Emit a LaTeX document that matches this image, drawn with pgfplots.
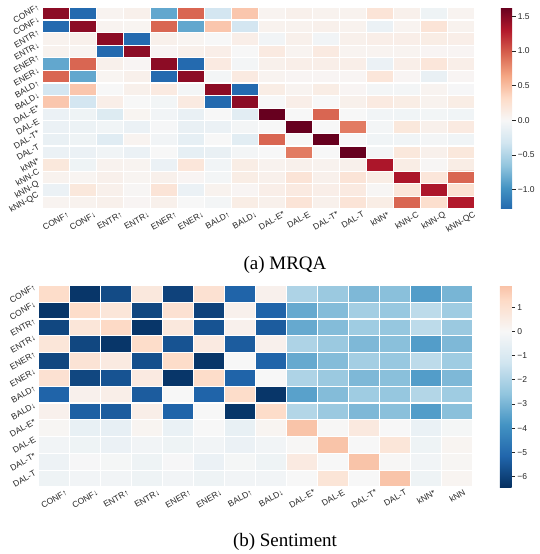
\documentclass[border=0pt]{standalone}
\usepackage{fontspec}
\setmainfont{Liberation Serif}
\newfontfamily\sans{Liberation Sans}
\usepackage{graphicx}
\usepackage{pgfplots}
\pgfplotsset{compat=1.18}
\definecolor{tg}{HTML}{262626}
\pgfplotsset{
 colormap={topmap}{rgb255(0pt)=(35,105,174); rgb255(30.2pt)=(67,147,195); rgb255(62.8pt)=(146,197,222); rgb255(95.4pt)=(209,229,240); rgb255(128pt)=(247,247,247); rgb255(160.6pt)=(253,219,199); rgb255(193.2pt)=(244,165,130); rgb255(225.8pt)=(214,96,77); rgb255(258.4pt)=(178,24,43); rgb255(291pt)=(103,0,31)},
 colormap={botmap}{rgb255(0pt)=(5,48,97); rgb255(12.88pt)=(33,102,172); rgb255(25.76pt)=(67,147,195); rgb255(38.64pt)=(146,197,222); rgb255(51.52pt)=(209,229,240); rgb255(64.4pt)=(247,247,247); rgb255(77.28pt)=(253,219,199); rgb255(83.5pt)=(249,193,166)},
 hm/.style={scale only axis, enlargelimits=false, y dir=reverse, axis on top,
   axis line style={draw=none}, major tick length=0pt, minor tick length=0pt,
   grid=minor, minor grid style={white, line width=1.1pt},
   tick label style={font=\sans\fontsize{8.5}{10}\selectfont, text=tg},
   xticklabel style={anchor=north, inner sep=2pt},
   yticklabel style={anchor=east, inner sep=2pt},
   point meta=explicit},
 cb/.style={at={(parent axis.north east)}, anchor=north west,
   scale only axis, axis line style={draw=none}, xtick=\empty,
   ytick pos=right, yticklabel pos=right, tick align=outside,
   major tick length=3.5pt, tick style={tg, line width=0.8pt},
   yticklabel style={font=\sans\fontsize{8.5}{10}\selectfont, text=tg, inner sep=2pt}}
}
\begin{document}
\begin{tikzpicture}
\path[use as bounding box] (0,0) rectangle (539pt,554pt);
\begin{axis}[hm, at={(42.3pt,345pt)}, anchor=south west, width=432pt, height=201.6pt,
  xmin=-0.5, xmax=15.5, ymin=-0.5, ymax=15.5,
  colormap name=topmap, point meta min=-1.28, point meta max=1.63,
  xtick={0,...,15}, ytick={0,...,15},
  minor xtick={-0.5,0.5,...,15.5}, minor ytick={-0.5,0.5,...,15.5},
  xticklabels={\rotatebox{30}{CONF↑},\rotatebox{30}{CONF↓},\rotatebox{30}{ENTR↑},\rotatebox{30}{ENTR↓},\rotatebox{30}{ENER↑},\rotatebox{30}{ENER↓},\rotatebox{30}{BALD↑},\rotatebox{30}{BALD↓},\rotatebox{30}{DAL-E*},\rotatebox{30}{DAL-E},\rotatebox{30}{DAL-T*},\rotatebox{30}{DAL-T},\rotatebox{30}{kNN*},\rotatebox{30}{kNN-C},\rotatebox{30}{kNN-Q},\rotatebox{30}{kNN-QC}},
  yticklabels={\rotatebox{30}{CONF↑},\rotatebox{30}{CONF↓},\rotatebox{30}{ENTR↑},\rotatebox{30}{ENTR↓},\rotatebox{30}{ENER↑},\rotatebox{30}{ENER↓},\rotatebox{30}{BALD↑},\rotatebox{30}{BALD↓},\rotatebox{30}{DAL-E*},\rotatebox{30}{DAL-E},\rotatebox{30}{DAL-T*},\rotatebox{30}{DAL-T},\rotatebox{30}{kNN*},\rotatebox{30}{kNN-C},\rotatebox{30}{kNN-Q},\rotatebox{30}{kNN-QC}},
  colorbar, colorbar style={cb, xshift=18pt, width=11.3pt, height=201.6pt,
    ytick={-1,-0.5,0,0.5,1,1.5}, yticklabels={−1.0,−0.5,0.0,0.5,1.0,1.5}}]
\addplot[matrix plot*, mesh/cols=16] coordinates {
(0,0)[1.47] (1,0)[-1.27] (2,0)[0.05] (3,0)[0.08] (4,0)[-0.85] (5,0)[0.95] (6,0)[-0.30] (7,0)[0.45] (8,0)[0.05] (9,0)[0.08] (10,0)[0.06] (11,0)[0.06] (12,0)[0.22] (13,0)[0.08] (14,0)[-0.08] (15,0)[0.05]

(0,1)[-1.27] (1,1)[1.47] (2,1)[0.05] (3,1)[0.04] (4,1)[0.95] (5,1)[-0.85] (6,1)[0.45] (7,1)[-0.30] (8,1)[0.06] (9,1)[0.06] (10,1)[0.08] (11,1)[0.06] (12,1)[-0.10] (13,1)[0.05] (14,1)[0.22] (15,1)[0.06]

(0,2)[0.06] (1,2)[0.08] (2,2)[1.47] (3,2)[-1.27] (4,2)[0.08] (5,2)[0.04] (6,2)[0.00] (7,2)[0.10] (8,2)[-0.05] (9,2)[0.08] (10,2)[-0.05] (11,2)[0.08] (12,2)[0.10] (13,2)[0.10] (14,2)[0.12] (15,2)[0.10]

(0,3)[0.06] (1,3)[0.04] (2,3)[-1.27] (3,3)[1.47] (4,3)[0.03] (5,3)[0.08] (6,3)[0.10] (7,3)[0.00] (8,3)[0.15] (9,3)[0.05] (10,3)[0.15] (11,3)[0.05] (12,3)[0.05] (13,3)[0.05] (14,3)[0.03] (15,3)[0.03]

(0,4)[-0.85] (1,4)[0.95] (2,4)[0.08] (3,4)[0.03] (4,4)[1.47] (5,4)[-1.27] (6,4)[0.15] (7,4)[-0.03] (8,4)[0.08] (9,4)[0.10] (10,4)[0.10] (11,4)[0.10] (12,4)[-0.10] (13,4)[0.10] (14,4)[0.20] (15,4)[0.10]

(0,5)[0.95] (1,5)[-0.85] (2,5)[0.04] (3,5)[0.08] (4,5)[-1.27] (5,5)[1.47] (6,5)[-0.03] (7,5)[0.15] (8,5)[0.05] (9,5)[0.03] (10,5)[0.03] (11,5)[0.03] (12,5)[0.20] (13,5)[0.03] (14,5)[-0.12] (15,5)[0.03]

(0,6)[-0.30] (1,6)[0.45] (2,6)[0.00] (3,6)[0.08] (4,6)[0.15] (5,6)[-0.03] (6,6)[1.47] (7,6)[-1.27] (8,6)[0.12] (9,6)[0.05] (10,6)[0.12] (11,6)[0.03] (12,6)[-0.03] (13,6)[-0.03] (14,6)[0.05] (15,6)[-0.01]

(0,7)[0.45] (1,7)[-0.30] (2,7)[0.10] (3,7)[0.00] (4,7)[-0.04] (5,7)[0.15] (6,7)[-1.27] (7,7)[1.47] (8,7)[0.00] (9,7)[0.10] (10,7)[0.00] (11,7)[0.08] (12,7)[0.15] (13,7)[0.12] (14,7)[0.06] (15,7)[0.12]

(0,8)[-0.10] (1,8)[-0.08] (2,8)[-0.22] (3,8)[0.04] (4,8)[-0.05] (5,8)[-0.12] (6,8)[0.00] (7,8)[-0.18] (8,8)[1.63] (9,8)[0.00] (10,8)[0.95] (11,8)[0.00] (12,8)[-0.05] (13,8)[-0.06] (14,8)[-0.04] (15,8)[-0.06]

(0,9)[-0.10] (1,9)[-0.09] (2,9)[-0.06] (3,9)[-0.10] (4,9)[-0.02] (5,9)[-0.12] (6,9)[-0.10] (7,9)[-0.03] (8,9)[0.00] (9,9)[1.63] (10,9)[0.00] (11,9)[0.85] (12,9)[-0.03] (13,9)[0.18] (14,9)[0.08] (15,9)[0.15]

(0,10)[-0.12] (1,10)[-0.08] (2,10)[-0.20] (3,10)[0.05] (4,10)[-0.05] (5,10)[-0.15] (6,10)[0.00] (7,10)[-0.18] (8,10)[0.95] (9,10)[0.00] (10,10)[1.63] (11,10)[0.00] (12,10)[-0.06] (13,10)[-0.06] (14,10)[-0.03] (15,10)[-0.06]

(0,11)[-0.10] (1,11)[-0.10] (2,11)[-0.06] (3,11)[-0.10] (4,11)[0.00] (5,11)[-0.15] (6,11)[-0.12] (7,11)[-0.03] (8,11)[0.00] (9,11)[0.85] (10,11)[0.00] (11,11)[1.63] (12,11)[-0.03] (13,11)[0.18] (14,11)[0.08] (15,11)[0.18]

(0,12)[0.18] (1,12)[-0.08] (2,12)[0.06] (3,12)[0.05] (4,12)[-0.10] (5,12)[0.20] (6,12)[-0.05] (7,12)[0.12] (8,12)[0.06] (9,12)[0.08] (10,12)[0.06] (11,12)[0.08] (12,12)[1.33] (13,12)[0.12] (14,12)[0.02] (15,12)[0.12]

(0,13)[0.06] (1,13)[0.04] (2,13)[0.08] (3,13)[0.04] (4,13)[0.08] (5,13)[0.03] (6,13)[-0.03] (7,13)[0.12] (8,13)[0.08] (9,13)[0.22] (10,13)[0.08] (11,13)[0.22] (12,13)[0.12] (13,13)[1.33] (14,13)[0.20] (15,13)[0.95]

(0,14)[-0.10] (1,14)[0.18] (2,14)[0.08] (3,14)[0.02] (4,14)[0.22] (5,14)[-0.10] (6,14)[0.06] (7,14)[0.03] (8,14)[0.10] (9,14)[0.15] (10,14)[0.10] (11,14)[0.15] (12,14)[0.02] (13,14)[0.20] (14,14)[1.33] (15,14)[0.25]

(0,15)[0.05] (1,15)[0.06] (2,15)[0.08] (3,15)[0.03] (4,15)[0.08] (5,15)[0.00] (6,15)[-0.03] (7,15)[0.12] (8,15)[0.08] (9,15)[0.22] (10,15)[0.08] (11,15)[0.22] (12,15)[0.12] (13,15)[0.95] (14,15)[0.28] (15,15)[1.30]
};
\end{axis}
\node[font=\fontsize{19}{22}\selectfont, anchor=center] at (285pt,289pt) {(a) MRQA};
\begin{axis}[hm, at={(38.7pt,67pt)}, anchor=south west, width=434pt, height=201.6pt,
  xmin=-0.5, xmax=13.5, ymin=-0.5, ymax=11.5,
  colormap name=botmap, point meta min=-6.44, point meta max=1.91,
  xtick={0,...,13}, ytick={0,...,11},
  minor xtick={-0.5,0.5,...,13.5}, minor ytick={-0.5,0.5,...,11.5},
  xticklabels={\rotatebox{30}{CONF↑},\rotatebox{30}{CONF↓},\rotatebox{30}{ENTR↑},\rotatebox{30}{ENTR↓},\rotatebox{30}{ENER↑},\rotatebox{30}{ENER↓},\rotatebox{30}{BALD↑},\rotatebox{30}{BALD↓},\rotatebox{30}{DAL-E*},\rotatebox{30}{DAL-E},\rotatebox{30}{DAL-T*},\rotatebox{30}{DAL-T},\rotatebox{30}{kNN*},\rotatebox{30}{kNN}},
  yticklabels={\rotatebox{30}{CONF↑},\rotatebox{30}{CONF↓},\rotatebox{30}{ENTR↑},\rotatebox{30}{ENTR↓},\rotatebox{30}{ENER↑},\rotatebox{30}{ENER↓},\rotatebox{30}{BALD↑},\rotatebox{30}{BALD↓},\rotatebox{30}{DAL-E*},\rotatebox{30}{DAL-E},\rotatebox{30}{DAL-T*},\rotatebox{30}{DAL-T}},
  colorbar, colorbar style={cb, xshift=18.7pt, width=11.7pt, height=201.6pt,
    ytick={-6,-5,-4,-3,-2,-1,0,1}, yticklabels={−6,−5,−4,−3,−2,−1,0,1}}]
\addplot[matrix plot*, mesh/cols=14] coordinates {
(0,0)[1.2] (1,0)[-6.3] (2,0)[-5.8] (3,0)[0.7] (4,0)[-6.0] (5,0)[1.0] (6,0)[-5.2] (7,0)[0.3] (8,0)[-2.0] (9,0)[-2.4] (10,0)[-2.9] (11,0)[-2.7] (12,0)[-3.6] (13,0)[-3.0]

(0,1)[-6.3] (1,1)[1.2] (2,1)[0.8] (3,1)[-5.9] (4,1)[1.0] (5,1)[-6.0] (6,1)[0.3] (7,1)[-5.2] (8,1)[-3.3] (9,1)[-2.8] (10,1)[-2.2] (11,1)[-2.45] (12,1)[-1.7] (13,1)[-2.3]

(0,2)[-5.9] (1,2)[0.8] (2,2)[1.3] (3,2)[-6.3] (4,2)[0.7] (5,2)[-5.6] (6,2)[0.3] (7,2)[-5.4] (8,2)[-3.3] (9,2)[-2.8] (10,2)[-2.3] (11,2)[-2.5] (12,2)[-1.7] (13,2)[-2.4]

(0,3)[0.8] (1,3)[-5.9] (2,3)[-6.3] (3,3)[1.2] (4,3)[-5.6] (5,3)[0.6] (6,3)[-5.4] (7,3)[0.3] (8,3)[-2.0] (9,3)[-2.4] (10,3)[-2.9] (11,3)[-2.7] (12,3)[-3.6] (13,3)[-2.9]

(0,4)[-5.9] (1,4)[0.9] (2,4)[0.6] (3,4)[-5.7] (4,4)[1.2] (5,4)[-6.3] (6,4)[0.0] (7,4)[-5.2] (8,4)[-3.3] (9,4)[-2.8] (10,4)[-2.2] (11,4)[-2.45] (12,4)[-1.7] (13,4)[-2.3]

(0,5)[1.0] (1,5)[-5.9] (2,5)[-5.6] (3,5)[0.6] (4,5)[-6.3] (5,5)[1.2] (6,5)[-5.2] (7,5)[0.0] (8,5)[-2.0] (9,5)[-2.4] (10,5)[-2.9] (11,5)[-2.7] (12,5)[-3.6] (13,5)[-2.9]

(0,6)[-5.2] (1,6)[0.3] (2,6)[0.4] (3,6)[-5.4] (4,6)[0.0] (5,6)[-5.2] (6,6)[1.2] (7,6)[-6.3] (8,6)[-3.5] (9,6)[-2.8] (10,6)[-2.3] (11,6)[-2.5] (12,6)[-1.9] (13,6)[-2.3]

(0,7)[0.3] (1,7)[-5.3] (2,7)[-5.4] (3,7)[0.4] (4,7)[-5.2] (5,7)[0.0] (6,7)[-6.3] (7,7)[1.2] (8,7)[-1.9] (9,7)[-2.4] (10,7)[-2.9] (11,7)[-2.7] (12,7)[-3.6] (13,7)[-2.7]

(0,8)[0.1] (1,8)[-0.5] (2,8)[-0.55] (3,8)[0.15] (4,8)[-0.45] (5,8)[0.0] (6,8)[-0.5] (7,8)[0.15] (8,8)[1.85] (9,8)[0.05] (10,8)[0.65] (11,8)[0.0] (12,8)[-0.45] (13,8)[-0.1]

(0,9)[-0.2] (1,9)[-0.3] (2,9)[-0.4] (3,9)[-0.2] (4,9)[-0.3] (5,9)[-0.2] (6,9)[-0.4] (7,9)[-0.2] (8,9)[0.05] (9,9)[1.85] (10,9)[0.0] (11,9)[0.8] (12,9)[-0.3] (13,9)[0.15]

(0,10)[-0.35] (1,10)[-0.05] (2,10)[-0.1] (3,10)[-0.3] (4,10)[-0.05] (5,10)[-0.4] (6,10)[-0.1] (7,10)[-0.3] (8,10)[0.6] (9,10)[0.0] (10,10)[1.85] (11,10)[0.05] (12,10)[-0.2] (13,10)[0.1]

(0,11)[-0.3] (1,11)[-0.2] (2,11)[-0.2] (3,11)[-0.3] (4,11)[-0.2] (5,11)[-0.3] (6,11)[-0.2] (7,11)[-0.2] (8,11)[0.0] (9,11)[0.85] (10,11)[0.0] (11,11)[1.85] (12,11)[-0.3] (13,11)[0.15]
};
\end{axis}
\node[font=\fontsize{19}{22}\selectfont, anchor=center] at (285pt,12pt) {(b) Sentiment};
\end{tikzpicture}
\end{document}
